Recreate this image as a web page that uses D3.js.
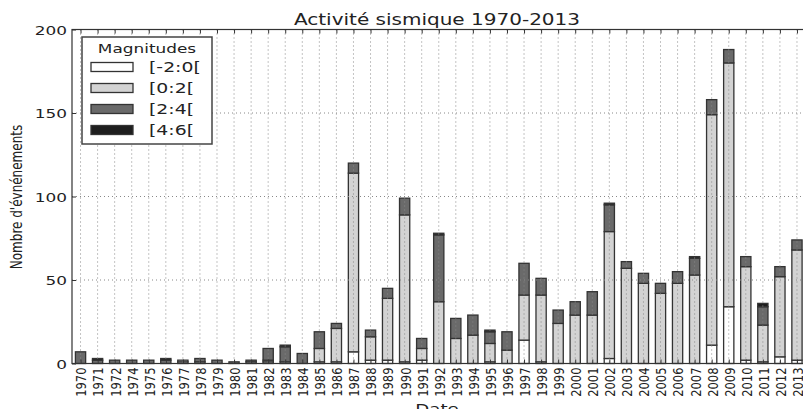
<!DOCTYPE html>
<meta charset="utf-8">
<style>
body { margin: 0; background: #fff; }
text { font-family: "DejaVu Sans", sans-serif; fill: #222; }
.grid line { stroke: #888; stroke-width: 1; stroke-dasharray: 1,3; }
.axis path { display: none; }
.axis line { stroke: #333; }
</style>
<svg width="803" height="409"></svg>
<script src="https://d3js.org/d3.v7.min.js"></script>
<script>

// years (1973 is absent from the source)
var years = [1970,1971,1972,1974,1975,1976,1977,1978,1979,1980,1981,1982,1983,1984,1985,1986,1987,1988,1989,1990,1991,1992,1993,1994,1995,1996,1997,1998,1999,2000,2001,2002,2003,2004,2005,2006,2007,2008,2009,2010,2011,2012,2013];

// counts per magnitude class
var magA = [0,0,0,0,0,0,1,0,0,0,0,1,0,0,1,1,7,2,2,1,2,0,0,0,1,0,14,1,0,0,0,3,0,0,0,0,0,11,34,2,1,4,2];
var magB = [0,0,0,0,0,0,1,1,0,0,1,1,1,0,8,20,107,14,37,88,7,37,15,17,11,8,27,40,24,29,29,76,57,48,42,48,53,138,146,56,22,48,66];
var magC = [7,2,2,2,2,2,0,2,2,1,1,7,9,6,10,3,6,4,6,10,6,40,12,12,7,11,19,10,8,8,14,16,4,6,6,7,10,9,8,6,11,6,6];
var magD = [0,1,0,0,0,1,0,0,0,0,0,0,1,0,0,0,0,0,0,0,0,1,0,0,1,0,0,0,0,0,0,1,0,0,0,0,1,0,0,0,2,0,0];

var magLabels = ["[-2:0[", "[0:2[", "[2:4[", "[4:6["];
var magColors = ["#ffffff", "#d3d3d3", "#6a6a6a", "#1e1e1e"];
var yTicks = [0, 50, 100, 150, 200];

var svg = d3.select("svg"),
    pLeft = 72, pRight = 805.5, pTop = 29.5, pBottom = 363.5,
    sx = 1.3;

var x = d3.scaleBand()
    .domain(years)
    .range([pLeft, pRight])
    .paddingInner(0.4)
    .paddingOuter(0.2);

var y = d3.scaleLinear()
    .domain([0, 200])
    .range([pBottom, pTop]);

var keys = ["a", "b", "c", "d"];
var rows = years.map(function(yr, i) {
  return {year: yr, a: magA[i], b: magB[i], c: magC[i], d: magD[i]};
});
var series = d3.stack().keys(keys)(rows);

// bars
var layer = svg.append("g").selectAll("g")
  .data(series)
  .enter().append("g")
    .attr("fill", function(d, i) { return magColors[i]; });

layer.selectAll("rect")
  .data(function(d) { return d.filter(function(s) { return s[1] - s[0] > 0; }); })
  .enter().append("rect")
    .attr("x", function(d) { return x(d.data.year); })
    .attr("width", x.bandwidth())
    .attr("y", function(d) { return y(d[1]); })
    .attr("height", function(d) { return y(d[0]) - y(d[1]); })
    .attr("stroke", "#333")
    .attr("stroke-width", 1.3);

// dotted grid on top of bars
var grid = svg.append("g").attr("class", "grid");
grid.selectAll(".gx")
  .data(years)
  .enter().append("line")
    .attr("x1", function(d) { return x(d) + x.bandwidth() / 2; })
    .attr("x2", function(d) { return x(d) + x.bandwidth() / 2; })
    .attr("y1", pTop)
    .attr("y2", pBottom);
grid.selectAll(".gy")
  .data(yTicks.slice(1, -1))
  .enter().append("line")
    .attr("x1", pLeft)
    .attr("x2", pRight)
    .attr("y1", function(d) { return y(d); })
    .attr("y2", function(d) { return y(d); });

// frame
svg.append("rect")
    .attr("x", pLeft)
    .attr("y", pTop)
    .attr("width", pRight - pLeft)
    .attr("height", pBottom - pTop)
    .attr("fill", "none")
    .attr("stroke", "#333")
    .attr("stroke-width", 1.2);

// axes
var xc = function(d) { return x(d) + x.bandwidth() / 2; };
var xs = d3.scalePoint().domain(years).range([xc(years[0]), xc(years[years.length - 1])]);

var gy = svg.append("g")
    .attr("class", "axis")
    .attr("transform", "translate(" + pLeft + ",0)")
    .call(d3.axisLeft(y).tickValues(yTicks).tickSizeInner(-4).tickSizeOuter(0));
gy.selectAll("text")
    .attr("x", 0)
    .attr("dy", "0.36em")
    .attr("transform", "translate(-5,0) scale(" + sx + ",1)")
    .style("font-size", "13px")
    .style("text-anchor", "end");

svg.append("g")
    .attr("class", "axis")
    .attr("transform", "translate(0," + pTop + ")")
    .call(d3.axisTop(xs).tickSizeInner(-4).tickSizeOuter(0).tickFormat(""));

var gx = svg.append("g")
    .attr("class", "axis")
    .attr("transform", "translate(0," + pBottom + ")")
    .call(d3.axisBottom(xs).tickSizeInner(-4).tickSizeOuter(0));
gx.selectAll("text")
    .attr("x", 0)
    .attr("y", 0)
    .attr("dy", "0.36em")
    .attr("transform", "translate(0,4) scale(" + sx + ",1) rotate(-90)")
    .style("font-size", "11.5px")
    .style("text-anchor", "end");

// titles
svg.append("text")
    .attr("transform", "translate(437,25) scale(1.25,1)")
    .attr("text-anchor", "middle")
    .style("font-size", "16px")
    .text("Activité sismique 1970-2013");

svg.append("text")
    .attr("transform", "translate(437,414) scale(" + sx + ",1)")
    .attr("text-anchor", "middle")
    .style("font-size", "14px")
    .text("Date");

svg.append("text")
    .attr("transform", "translate(22,197) scale(" + sx + ",1) rotate(-90)")
    .attr("text-anchor", "middle")
    .style("font-size", "12px")
    .text("Nombre d'évnénements");

// legend
var legend = svg.append("g");
legend.append("rect")
    .attr("x", 82).attr("y", 37)
    .attr("width", 130).attr("height", 107)
    .attr("fill", "#fff")
    .attr("stroke", "#444")
    .attr("stroke-width", 1.5);
legend.append("text")
    .attr("transform", "translate(147,53) scale(" + sx + ",1)")
    .attr("text-anchor", "middle")
    .style("font-size", "13px")
    .text("Magnitudes");

var item = legend.selectAll(".item")
  .data(magLabels)
  .enter().append("g")
    .attr("transform", function(d, i) { return "translate(0," + (67 + i * 21) + ")"; });
item.append("rect")
    .attr("x", 91).attr("y", -4.5)
    .attr("width", 42).attr("height", 9)
    .attr("fill", function(d, i) { return magColors[i]; })
    .attr("stroke", "#333")
    .attr("stroke-width", 1.3);
item.append("text")
    .attr("transform", "translate(149,5) scale(" + sx + ",1)")
    .style("font-size", "14.5px")
    .text(function(d) { return d; });

</script>
